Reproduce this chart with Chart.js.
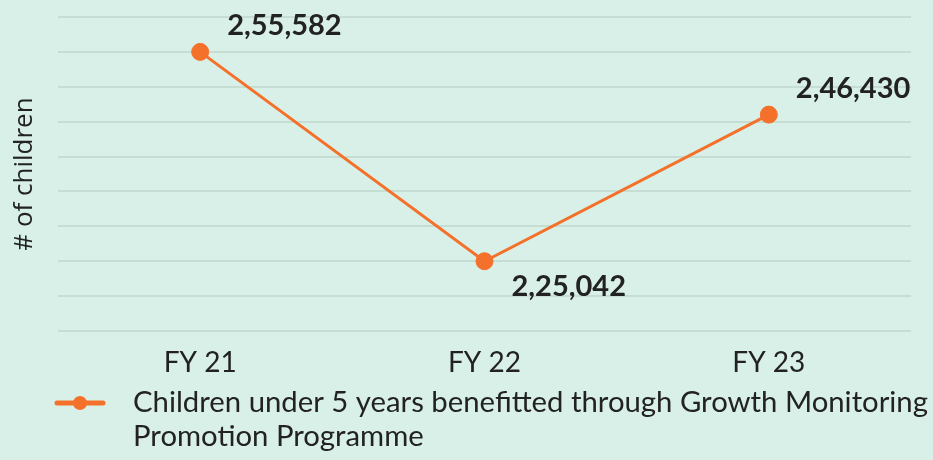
<!DOCTYPE html>
<html>
<head>
<meta charset="utf-8">
<script src="https://cdn.jsdelivr.net/npm/chart.js@4.4.1/dist/chart.umd.min.js"></script>
<style>
  html, body { margin: 0; padding: 0; background: #d9f0e8; }
  #wrap { width: 933px; height: 460px; position: relative; }
</style>
</head>
<body>
<div id="wrap"><canvas id="chart"></canvas></div>
<script>
// chart data
const categories = ['FY 21', 'FY 22', 'FY 23'];
const childrenBenefitted = [255582, 225042, 246430];
const seriesLabel = ['Children under 5 years benefitted through Growth Monitoring', 'Promotion Programme'];
const yAxisTitle = '# of children';
// hidden value axis: 10 evenly spaced grid lines
const yMin = 214862;
const yMax = 260672;
const yGridCount = 10;

const ORANGE = '#f4712b';
const TEXT = '#222222';

// indian style grouping, e.g. 2,55,582
function formatIN(n) {
    const s = String(Math.round(n));
    if (s.length <= 3) return s;
    const last3 = s.slice(-3);
    const rest = s.slice(0, -3).replace(/\B(?=(\d{2})+(?!\d))/g, ',');
    return rest + ',' + last3;
}

// value labels next to each point
const valueLabels = {
    id: 'valueLabels',
    afterDatasetsDraw(chart) {
        const ctx = chart.ctx;
        const meta = chart.getDatasetMeta(0);
        const data = chart.data.datasets[0].data;
        ctx.save();
        ctx.font = "bold 29px Lato";
        ctx.fillStyle = TEXT;
        ctx.textAlign = 'left';
        ctx.textBaseline = 'middle';
        meta.data.forEach((pt, i) => {
            const prev = data[i - 1], next = data[i + 1];
            const isLow = (prev === undefined || data[i] < prev) && (next === undefined || data[i] < next);
            const dy = isLow ? 25 : -26;
            ctx.fillText(formatIN(data[i]), pt.x + 27, pt.y + dy);
        });
        ctx.restore();
    }
};

// legend below the axis: line-with-dot marker and a two line label
const lineLegend = {
    id: 'lineLegend',
    afterDraw(chart) {
        const ctx = chart.ctx;
        const ds = chart.data.datasets[0];
        const top = chart.chartArea.bottom + 72;
        ctx.save();
        ctx.strokeStyle = ds.borderColor;
        ctx.fillStyle = ds.borderColor;
        ctx.lineWidth = 5;
        ctx.lineCap = 'round';
        ctx.beginPath();
        ctx.moveTo(57, top);
        ctx.lineTo(103, top);
        ctx.stroke();
        ctx.beginPath();
        ctx.arc(80, top, 7, 0, Math.PI * 2);
        ctx.fill();
        ctx.font = "29.3px Lato";
        ctx.fillStyle = TEXT;
        ctx.textAlign = 'left';
        ctx.textBaseline = 'middle';
        ds.label.forEach((line, i) => ctx.fillText(line, 133, top + i * 34));
        ctx.restore();
    }
};

new Chart(document.getElementById('chart'), {
    type: 'line',
    data: {
        labels: categories,
        datasets: [{
            label: seriesLabel,
            data: childrenBenefitted,
            borderColor: ORANGE,
            backgroundColor: ORANGE,
            borderWidth: 3,
            pointRadius: 8.5,
            pointBorderWidth: 1,
            pointBackgroundColor: ORANGE,
            pointBorderColor: ORANGE,
            tension: 0
        }]
    },
    options: {
        responsive: true,
        maintainAspectRatio: false,
        animation: false,
        layout: { padding: { top: 17, right: 22, left: 0, bottom: 78 } },
        plugins: {
            tooltip: { enabled: false },
            legend: { display: false }
        },
        scales: {
            x: {
                offset: true,
                afterFit(scale) { scale.height = 51; },
                grid: { display: false, drawTicks: false },
                border: { display: false },
                ticks: {
                    color: TEXT,
                    padding: 15,
                    font: { family: 'Lato', size: 28 }
                }
            },
            y: {
                min: yMin,
                max: yMax,
                afterBuildTicks(scale) {
                    const step = (yMax - yMin) / (yGridCount - 1);
                    scale.ticks = Array.from({ length: yGridCount }, (_, i) => ({ value: yMin + i * step }));
                },
                afterFit(scale) { scale.width = 58; },
                grid: { color: '#c6ddd3', lineWidth: 2, drawTicks: false },
                border: { display: false },
                ticks: { display: false },
                title: {
                    display: true,
                    text: yAxisTitle,
                    color: TEXT,
                    padding: { top: 9, bottom: 0 },
                    font: { family: 'Open Sans', size: 26 }
                }
            }
        }
    },
    plugins: [valueLabels, lineLegend]
});
</script>
</body>
</html>
